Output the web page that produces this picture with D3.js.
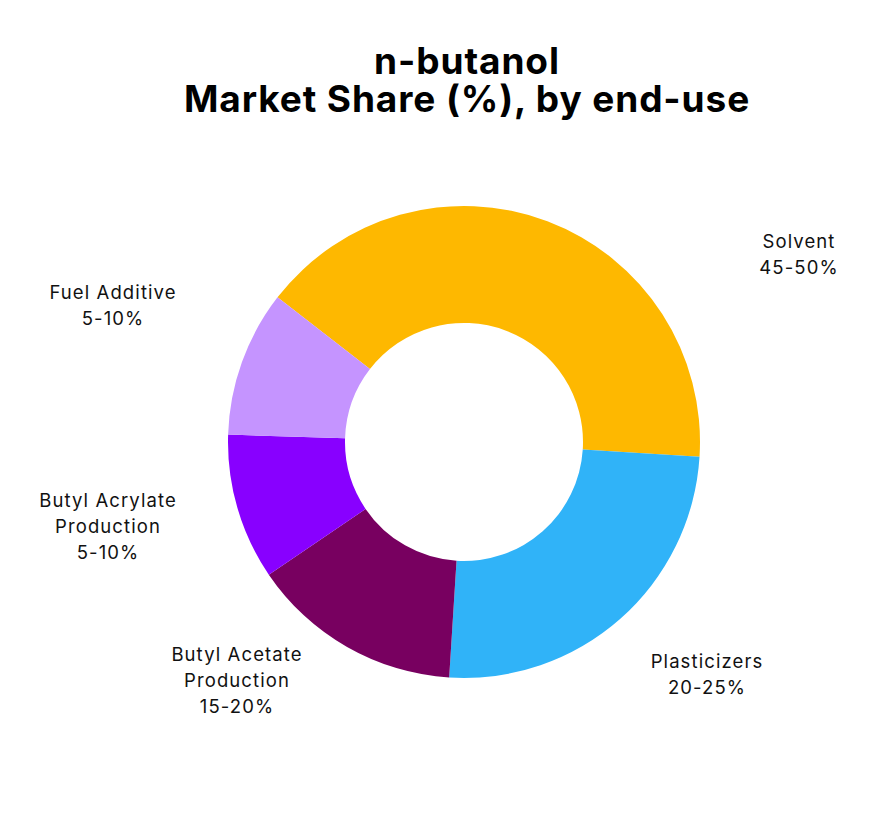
<!DOCTYPE html>
<html lang="en">
<head>
    <meta charset="utf-8">
    <title>n-butanol Market Share by end-use</title>
    <style>
        body { margin: 0; background: #fff; }
        .title { font-family: Inter, sans-serif; font-weight: 700; font-size: 37px; letter-spacing: 0.9px; fill: #000; }
        .label { font-family: Inter, sans-serif; font-size: 18.5px; letter-spacing: 1.1px; fill: #111; }
    </style>
</head>
<body>
    <script src="https://cdn.jsdelivr.net/npm/d3@7"></script>
    <script>
        // data
        const categories = ["Solvent", "Plasticizers", "Butyl Acetate Production", "Butyl Acrylate Production", "Fuel Additive"];
        const shares = [40.5, 25, 14.5, 10, 10];
        const rangeLabels = ["45-50%", "20-25%", "15-20%", "5-10%", "5-10%"];
        const labelLines = [["Solvent"], ["Plasticizers"], ["Butyl Acetate", "Production"], ["Butyl Acrylate", "Production"], ["Fuel Additive"]];

        // layout
        const width = 893, height = 817;
        const cx = 464, cy = 442, outerR = 236, innerR = 119;
        const colors = ["#FEB800", "#30B3F8", "#780060", "#8800FF", "#C594FF"];
        const startDeg = -52.2;
        // label anchors relative to the centre (first baseline)
        const labelPos = [[335, -194], [243, 226], [-227, 219], [-356, 65], [-351, -143]];
        const lineH = 26;

        const svg = d3.select("body").append("svg")
            .attr("width", width)
            .attr("height", height);

        svg.append("text")
            .attr("class", "title")
            .attr("text-anchor", "middle")
            .selectAll("tspan")
            .data(["n-butanol", "Market Share (%), by end-use"])
            .join("tspan")
                .attr("x", 467)
                .attr("y", (d, i) => 74 + i * 38)
                .text(d => d);

        const pie = d3.pie()
            .sort(null)
            .startAngle(startDeg * Math.PI / 180)
            .endAngle(startDeg * Math.PI / 180 + 2 * Math.PI);

        const arc = d3.arc().innerRadius(innerR).outerRadius(outerR);

        const g = svg.append("g").attr("transform", `translate(${cx}, ${cy})`);

        g.selectAll("path")
            .data(pie(shares))
            .join("path")
                .attr("d", arc)
                .attr("fill", (d, i) => colors[i]);

        // labels
        const labels = g.selectAll("text.label")
            .data(categories)
            .join("text")
                .attr("class", "label")
                .attr("text-anchor", "middle");

        labels.each(function(d, i) {
            const lines = labelLines[i].concat([rangeLabels[i]]);
            d3.select(this).selectAll("tspan")
                .data(lines)
                .join("tspan")
                    .attr("x", labelPos[i][0])
                    .attr("y", (t, j) => labelPos[i][1] + j * lineH)
                    .text(t => t);
        });
    </script>
</body>
</html>
